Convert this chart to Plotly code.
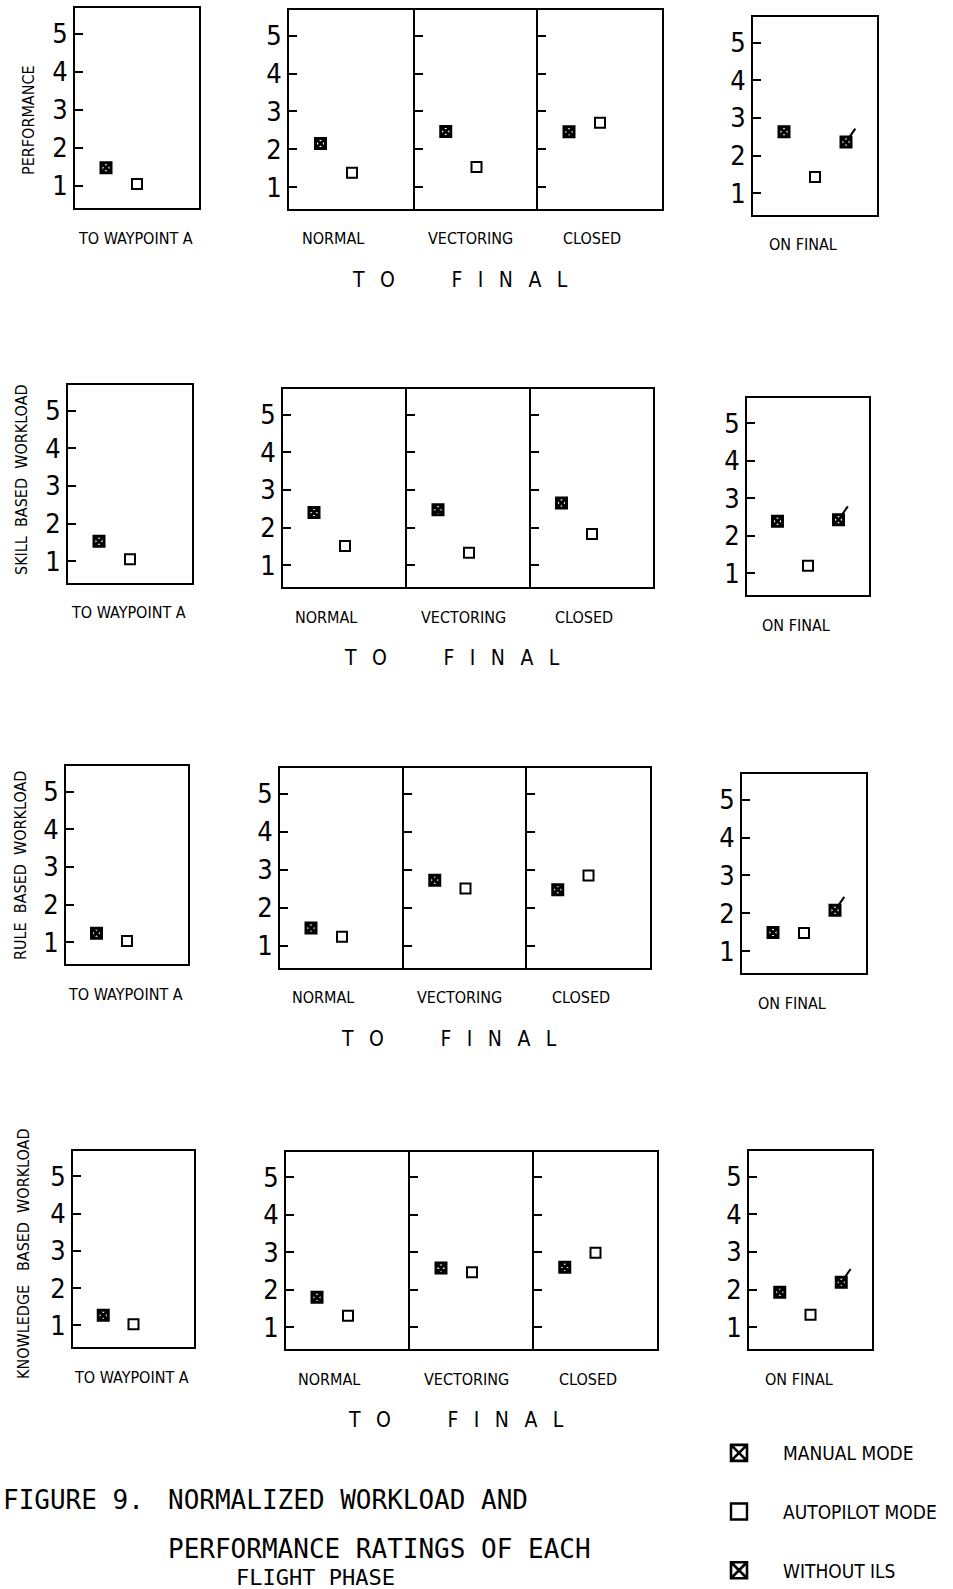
import plotly.graph_objects as go

W, H = 953, 1589

# ---------------- data ----------------
phases = ["TO WAYPOINT A", "NORMAL", "VECTORING", "CLOSED", "ON FINAL"]
group_label = "T\u2002 O\u2003\u2003\u2003F\u2002 I\u2002 N\u2002 A\u2002 L"
ratings = ["PERFORMANCE", "SKILL  BASED  WORKLOAD", "RULE  BASED  WORKLOAD", "KNOWLEDGE   BASED  WORKLOAD"]
series = ["MANUAL MODE", "AUTOPILOT MODE", "WITHOUT ILS"]
tick_vals = [1, 2, 3, 4, 5]
tick_text = ["1", "2", "3", "4", "5"]

perf_manual = [1.48, 2.15, 2.47, 2.46, 2.63]
perf_auto = [1.05, 1.38, 1.53, 2.70, 1.43]
perf_noils = [None, None, None, None, 2.36]

skill_manual = [1.53, 2.40, 2.47, 2.65, 2.39]
skill_auto = [1.05, 1.51, 1.33, 1.83, 1.20]
skill_noils = [None, None, None, None, 2.43]

rule_manual = [1.24, 1.47, 2.73, 2.48, 1.49]
rule_auto = [1.03, 1.24, 2.51, 2.85, 1.48]
rule_noils = [None, None, None, None, 2.08]

know_manual = [1.27, 1.80, 2.58, 2.60, 1.93]
know_auto = [1.03, 1.31, 2.47, 2.99, 1.33]
know_noils = [None, None, None, None, 2.19]

values = [
    [perf_manual, perf_auto, perf_noils],
    [skill_manual, skill_auto, skill_noils],
    [rule_manual, rule_auto, rule_noils],
    [know_manual, know_auto, know_noils],
]

caption = ["FIGURE 9.", "NORMALIZED WORKLOAD AND", "PERFORMANCE RATINGS OF EACH", "FLIGHT PHASE"]

# ---------------- layout (pixel boxes) ----------------
ROWS = [
    dict(left=(75, 199, 8, 208), mid=(289, 415, 538, 662, 10, 209), right=(753, 877, 17, 215)),
    dict(left=(68, 192, 385, 583), mid=(283, 407, 531, 653, 389, 587), right=(747, 869, 398, 595)),
    dict(left=(66, 188, 766, 964), mid=(280, 404, 527, 650, 768, 968), right=(742, 866, 774, 973)),
    dict(left=(73, 194, 1151, 1347), mid=(286, 410, 534, 657, 1152, 1349), right=(749, 872, 1151, 1349)),
]
YTITLE_POS = [(28, 120), (22, 480), (20, 866), (23, 1254)]
LABEL_SHIFT = [-2, -19, -6, -8, -12]

FONT = "DejaVu Sans Condensed, DejaVu Sans, sans-serif"
CAP_FONT = "DejaVu Sans Mono, Liberation Mono, monospace"


def px_x(x):
    return x / W


def px_y(y):
    return 1 - y / H


marker_styles = {
    "MANUAL MODE": dict(symbol="square-x-open", size=10, color="black", line=dict(width=3, color="black")),
    "AUTOPILOT MODE": dict(symbol="square-open", size=10, color="black", line=dict(width=2, color="black")),
    "WITHOUT ILS": dict(symbol="square-x-open", size=10, color="black", line=dict(width=3, color="black")),
}
legend_styles = {
    "MANUAL MODE": dict(symbol="square-x-open", size=16, color="black", line=dict(width=2.6, color="black")),
    "AUTOPILOT MODE": dict(symbol="square-open", size=16, color="black", line=dict(width=2.4, color="black")),
    "WITHOUT ILS": dict(symbol="square-x-open", size=16, color="black", line=dict(width=2.6, color="black")),
}

fig = go.Figure()
annotations = []

# legend-only entries (no data points)
for name in series:
    fig.add_trace(go.Scatter(
        x=[None], y=[None], mode="markers", name=name, legendgroup=name,
        showlegend=True, marker=legend_styles[name], hoverinfo="skip",
    ))

for r in range(4):
    row = ROWS[r]
    lx0, lx1, ly0, ly1 = row["left"]
    mx0, d1, d2, mx1, my0, my1 = row["mid"]
    rx0, rx1, ry0, ry1 = row["right"]
    boxes = [
        (lx0, lx1, ly0, ly1),
        (mx0, d1, my0, my1),
        (d1, d2, my0, my1),
        (d2, mx1, my0, my1),
        (rx0, rx1, ry0, ry1),
    ]
    for p in range(5):
        k = r * 5 + p + 1
        xa = "x" if k == 1 else f"x{k}"
        ya = "y" if k == 1 else f"y{k}"
        x0, x1, y0, y1 = boxes[p]
        for s, name in enumerate(series):
            v = values[r][s][p]
            if v is None:
                continue
            fig.add_trace(go.Scatter(
                x=[name], y=[v], xaxis=xa, yaxis=ya, mode="markers",
                name=name, legendgroup=name, showlegend=False,
                marker=marker_styles[name], hoverinfo="name+y",
            ))
            if name == "WITHOUT ILS":
                fig.add_trace(go.Scatter(
                    x=[name], y=[v], xaxis=xa, yaxis=ya, mode="markers",
                    name=name, legendgroup=name, showlegend=False,
                    marker=dict(symbol="line-ns-open", size=9, angle=215, standoff=10,
                                color="black", line=dict(width=2, color="black")),
                    hoverinfo="skip",
                ))
        y_mirror = p not in (1, 2)
        fig.layout[f"xaxis{'' if k == 1 else k}"] = dict(
            domain=[px_x(x0), px_x(x1)], anchor=ya, type="category",
            categoryorder="array", categoryarray=series, range=[-1, 3],
            showticklabels=False, ticks="", showgrid=False, zeroline=False,
            showline=True, mirror=True, linecolor="black", linewidth=2, fixedrange=True,
        )
        fig.layout[f"yaxis{'' if k == 1 else k}"] = dict(
            domain=[px_y(y1), px_y(y0)], anchor=xa, range=[0.42, 5.68],
            tickvals=tick_vals, ticktext=tick_text, ticks="inside", ticklen=8,
            tickwidth=1.6, tickcolor="black",
            showticklabels=p in (0, 1, 4),
            tickfont=dict(family=FONT, size=27, color="black", weight=200),
            showgrid=False, zeroline=False,
            showline=True, mirror=y_mirror, linecolor="black", linewidth=2, fixedrange=True,
        )
        annotations.append(dict(
            x=px_x((x0 + x1) / 2 + LABEL_SHIFT[p]), y=px_y(y1 + 30), xref="paper", yref="paper",
            text=phases[p], showarrow=False, xanchor="center", yanchor="middle",
            font=dict(family=FONT, size=16, color="black"),
        ))
    annotations.append(dict(
        x=px_x((mx0 + mx1) / 2 - 16), y=px_y(my1 + 71), xref="paper", yref="paper",
        text=group_label, showarrow=False, xanchor="center", yanchor="middle",
        font=dict(family=FONT, size=21, color="black"),
    ))
    tx, ty = YTITLE_POS[r]
    annotations.append(dict(
        x=px_x(tx), y=px_y(ty), xref="paper", yref="paper", text=ratings[r],
        showarrow=False, textangle=-90, xanchor="center", yanchor="middle",
        font=dict(family=FONT, size=16, color="black"),
    ))

# caption
cap_font = dict(family=CAP_FONT, size=26, color="black")
annotations.append(dict(x=px_x(1), y=px_y(1500), xref="paper", yref="paper", text=caption[0],
                        showarrow=False, xanchor="left", yanchor="middle", font=cap_font))
annotations.append(dict(x=px_x(166), y=px_y(1500), xref="paper", yref="paper", text=caption[1],
                        showarrow=False, xanchor="left", yanchor="middle", font=cap_font))
annotations.append(dict(x=px_x(166), y=px_y(1549), xref="paper", yref="paper", text=caption[2],
                        showarrow=False, xanchor="left", yanchor="middle", font=cap_font))
annotations.append(dict(x=px_x(234), y=px_y(1577), xref="paper", yref="paper", text=caption[3],
                        showarrow=False, xanchor="left", yanchor="middle",
                        font=dict(family=CAP_FONT, size=22, color="black")))

fig.update_layout(
    width=W, height=H, margin=dict(l=0, r=0, t=0, b=0, autoexpand=False),
    paper_bgcolor="white", plot_bgcolor="white",
    annotations=annotations,
    showlegend=True,
    legend=dict(x=px_x(695), y=px_y(1434), xanchor="left", yanchor="top",
                font=dict(family=FONT, size=19, color="black"),
                tracegroupgap=31, itemwidth=78, bgcolor="rgba(0,0,0,0)",
                itemsizing="trace"),
)

post = """
var de=document.documentElement, b=document.body;
de.style.margin='0';de.style.padding='0';de.style.overflow='hidden';
b.style.margin='0';b.style.padding='0';b.style.overflow='hidden';
"""

fig.write_html("out.html", config={"displayModeBar": False}, post_script=post)
